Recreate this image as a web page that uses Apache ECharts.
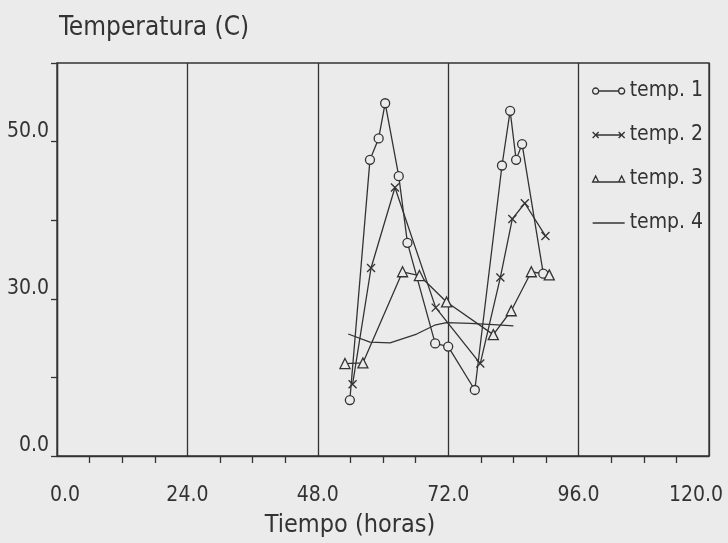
<!DOCTYPE html>
<html>
<head>
<meta charset="utf-8">
<script src="https://cdn.jsdelivr.net/npm/echarts@6/dist/echarts.min.js"></script>
<style>html,body{margin:0;padding:0;background:#ebebeb;}#c{width:728px;height:543px;}</style>
</head>
<body>
<div id="c"></div>
<script>
// hours, temperature pairs
const temp1 = [[53.9,8.9],[57.6,47.1],[59.2,50.5],[60.4,56.1],[62.9,44.5],[64.5,33.9],[69.6,17.9],[72.0,17.4],[76.9,10.5],[81.9,46.2],[83.4,54.9],[84.5,47.1],[85.6,49.6],[89.5,29.0]];
const temp2 = [[54.4,11.4],[57.8,29.9],[62.2,42.7],[69.7,23.6],[77.9,14.7],[81.6,28.4],[83.8,37.7],[86.1,40.2],[89.9,35.0]];
const temp3 = [[53.0,14.7],[56.3,14.8],[63.6,29.3],[66.7,28.7],[71.7,24.5],[80.3,19.3],[83.6,23.1],[87.3,29.3],[90.6,28.8]];
const temp4 = [[53.6,19.4],[57.6,18.1],[61.3,18.0],[66.2,19.4],[69.5,20.8],[71.7,21.2],[76.0,21.1],[80.3,20.9],[84.0,20.7]];
const seriesNames = ["temp. 1","temp. 2","temp. 3","temp. 4"];
const xTickLabels = ["0.0","24.0","48.0","72.0","96.0","120.0"];
const yTickLabels = ["0.0","","30.0","","50.0",""];

const ink = '#333';
const paper = '#ebebeb';
const font = "'Liberation Sans Narrow','DejaVu Sans Condensed','DejaVu Sans',sans-serif";
const xPath = 'path://M0,0L10,10M10,0L0,10';
const legendIcons = [
  'path://M0,5A3,3 0 1,0 6,5A3,3 0 1,0 0,5ZM6,5H26M26,5A3,3 0 1,0 32,5A3,3 0 1,0 26,5Z',
  'path://M0,2L6,8M6,2L0,8M3,5H29M26,2L32,8M32,2L26,8',
  'path://M0,8L3,2L6,8ZM6,8H26M26,8L29,2L32,8Z',
  'path://M0,0H32V1.3H0Z'
];
function mk(name, data, symbol, size){
  return {
    name, type:'line', data, symbol, symbolSize:size, showSymbol: symbol!=='none',
    lineStyle:{color:ink,width:1.3},
    itemStyle:{color: symbol===xPath ? 'rgba(0,0,0,0)' : paper, borderColor:ink, borderWidth:1.3},
    emphasis:{disabled:true}, animation:false
  };
}
const chart = echarts.init(document.getElementById('c'));
chart.setOption({
  backgroundColor: paper,
  animation:false,
  grid:{left:57,right:19,top:63,bottom:87,outerBoundsMode:'none',containLabel:false,show:true,borderColor:ink,borderWidth:1.3,backgroundColor:'transparent'},
  legend:{
    orient:'vertical', left:587, top:74, itemGap:20, itemWidth:32, itemHeight:10,
    textStyle:{fontFamily:font,fontSize:21,color:ink,lineHeight:24},
    data: seriesNames.map((n,i)=>({
      name:n, icon:legendIcons[i],
      itemStyle: i===3 ? {color:ink,borderWidth:0} : {color:'rgba(0,0,0,0)',borderColor:ink,borderWidth:1.3}
    }))
  },
  xAxis:{
    type:'value', min:0, max:120, interval:24,
    name:'Tiempo (horas)', nameLocation:'middle', nameGap:57,
    nameTextStyle:{fontFamily:font,fontSize:25,color:ink,padding:[0,66,0,0]},
    axisLine:{lineStyle:{color:ink,width:1.3}},
    axisTick:{show:false},
    minorTick:{show:true,splitNumber:4,length:7,lineStyle:{color:ink,width:1.3}},
    axisLabel:{fontFamily:font,fontSize:21,color:ink,margin:29,
      formatter:(v,i)=> i===0 ? '{a|'+xTickLabels[i]+'}' : (i===xTickLabels.length-1 ? '{b|'+xTickLabels[i]+'}' : xTickLabels[i]),
      rich:{a:{fontFamily:font,fontSize:21,color:ink,padding:[0,0,0,16]},b:{fontFamily:font,fontSize:21,color:ink,padding:[0,26,0,0]}}},
    splitLine:{show:true,lineStyle:{color:ink,width:1.3}}
  },
  yAxis:{
    type:'value', min:0, max:62.5, interval:12.5,
    name:'Temperatura (C)', nameLocation:'end', nameGap:22,
    nameTextStyle:{fontFamily:font,fontSize:26,color:ink,align:'left',verticalAlign:'bottom',padding:[0,0,0,2]},
    axisLine:{lineStyle:{color:ink,width:1.3}},
    axisTick:{show:true,length:6,lineStyle:{color:ink,width:1.3}},
    axisLabel:{fontFamily:font,fontSize:21,color:ink,margin:8,verticalAlign:'bottom',formatter:(v,i)=>yTickLabels[i]},
    splitLine:{show:false}
  },
  series:[
    mk(seriesNames[0],temp1,'circle',9),
    mk(seriesNames[1],temp2,xPath,8),
    mk(seriesNames[2],temp3,'triangle',10),
    mk(seriesNames[3],temp4,'none',0)
  ]
});
</script>
</body>
</html>
